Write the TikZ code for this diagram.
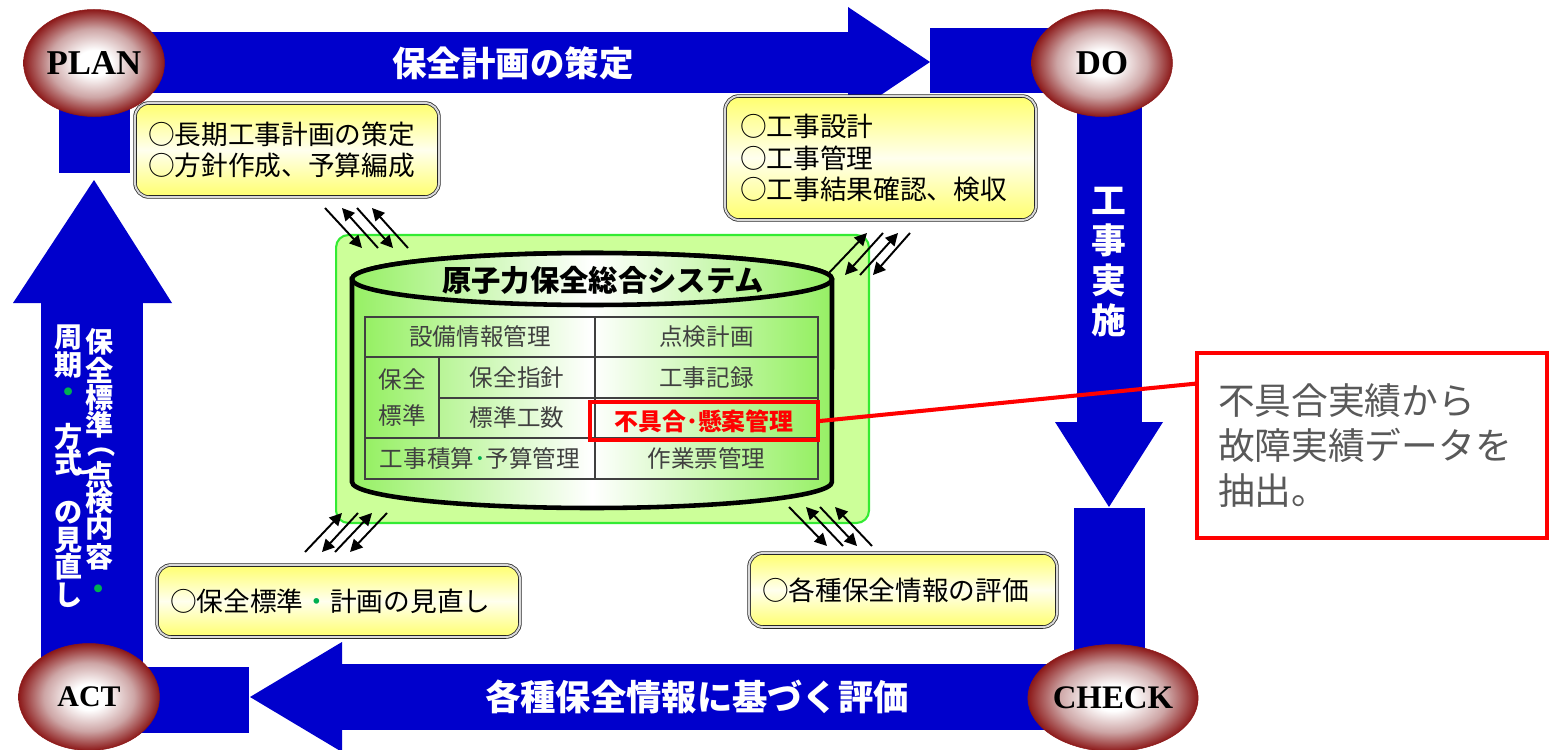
\documentclass[tikz,border=0pt]{standalone}
\usepackage{fontspec}
\setmainfont{Liberation Serif}
\newfontfamily\jp{Noto Sans CJK JP}
\usetikzlibrary{shapes.geometric,arrows.meta,calc}
\definecolor{pblue}{RGB}{0,0,204}
\definecolor{ytop}{RGB}{255,255,110}
\definecolor{ymid}{RGB}{255,255,238}
\definecolor{lgreen}{RGB}{204,255,153}
\definecolor{bgreen}{RGB}{51,235,51}
\definecolor{tgreen}{RGB}{150,240,100}
\definecolor{tgray}{RGB}{64,64,64}
\definecolor{calgray}{RGB}{89,89,89}
\definecolor{dotgreen}{RGB}{0,176,80}
\definecolor{ellmid}{RGB}{205,165,165}
\definecolor{elledge}{RGB}{140,25,25}
\pgfdeclareradialshading{capsule}{\pgfpoint{0bp}{0bp}}{color(0bp)=(white); color(6bp)=(white); color(16bp)=(ellmid); color(25bp)=(elledge); color(50bp)=(elledge)}
\newcommand\fsz[2]{\fontsize{#1pt}{#2pt}\selectfont}
\tikzset{
  phase/.style={ellipse, shade, shading=capsule, draw=elledge, line width=0.3pt, inner sep=0pt, minimum width=2.82cm, minimum height=2.14cm},
  ybox/.style={rectangle, rounded corners=8pt, draw=black!85, line width=0.45pt, double=black!15, double distance=1.1pt, top color=ytop, bottom color=ytop, middle color=ymid, align=left, font=\jp\fsz{15.2}{18}, inner ysep=0pt},
  cell/.style={rectangle, draw=tgray, line width=1.6pt, inner sep=0pt, text=tgray, font=\jp\fsz{13.4}{16}},
  vtext/.style={text=white, font=\jp\bfseries\fsz{16}{18}, inner sep=0pt},
  vdot/.style={text=dotgreen, font=\jp\bfseries\fsz{16}{18}, inner sep=0pt},
  sarrow/.style={line width=1.1pt, -{Triangle[length=7pt,width=7pt]}},
  sarrowr/.style={line width=1.1pt, {Triangle[length=7pt,width=7pt]}-},
  armlabel/.style={text=white, font=\jp\bfseries}
}
\begin{document}
\begin{tikzpicture}[x=0.02cm,y=-0.02cm]
\useasboundingbox (0,0) rectangle (1549,750);
% blue cycle arrows
\fill[pblue] (94,32) rectangle (848,93);
\fill[pblue] (848,7) -- (930,62) -- (848,117) -- cycle;
\fill[pblue] (930,28) rectangle (1102,93);
\fill[pblue] (1077,63) rectangle (1142,422);
\fill[pblue] (1055,422) -- (1163,422) -- (1109,507) -- cycle;
\fill[pblue] (1074,508) rectangle (1145,698);
\fill[pblue] (342,664) rectangle (1113,730);
\fill[pblue] (342,642) -- (250,697) -- (342,752) -- cycle;
\fill[pblue] (89,667) rectangle (249,733);
\fill[pblue] (41,303) rectangle (143,697);
\fill[pblue] (13,303) -- (94,180) -- (172,303) -- cycle;
\fill[pblue] (59,63) rectangle (130,173);
% arrow labels
\node[armlabel, font=\jp\bfseries\fsz{19.6}{22}] (toplabel) at (513,63) {保全計画の策定};
\node[armlabel, font=\jp\bfseries\fsz{20.1}{24}] (botlabel) at (697,697) {各種保全情報に基づく評価};
\node[armlabel, font=\jp\bfseries\fsz{19.8}{22.7}, align=center] (jisshi) at (1109,262) {工\\事\\実\\施};
\foreach \c/\xx/\yy [count=\i] in {保/100/342, 全/100/370, 標/100/398, 準/100/425, ︵/102/452, 点/100/475, 検/100/501, 内/100/527, 容/100/557, 周/69/338, 期/69/365, 方/69/437, 式/69/463, ︶/84/478, の/69/513, 見/69/540, 直/69/567, し/69/595}
  \node[vtext] (lv\i) at (\xx,\yy) {\c};
\node[vdot] (ldot1) at (99,592) {・};
\node[vdot] (ldot2) at (69,395) {・};
% green panel
\node[rectangle, rounded corners=7pt, fill=lgreen, draw=bgreen, line width=1.2pt, minimum width=10.66cm, minimum height=5.76cm] (panel) at (602.5,379) {};
% cylinder
\path[draw=black, line width=2.6pt, left color=tgreen, right color=tgreen, middle color=white] (352,279) -- (352,482) arc[start angle=180,end angle=360,x radius=4.8cm,y radius=0.52cm] -- (832,279) arc[start angle=0,end angle=180,x radius=4.8cm,y radius=0.52cm] -- cycle;
\path[draw=black, line width=2.6pt, left color=tgreen, right color=tgreen, middle color=white] (592,279) ellipse[x radius=4.8cm, y radius=0.52cm];
\node[font=\jp\bfseries\fsz{16.7}{18}] (systitle) at (603,280) {原子力保全総合システム};
% table
\shade[left color=tgreen, right color=tgreen, middle color=white] (365,317) rectangle (818,479);
\node[cell, minimum width=4.6cm, minimum height=0.8cm] (c11) at (480,337) {設備情報管理};
\node[cell, minimum width=4.46cm, minimum height=0.8cm] (c12) at (706.5,337) {点検計画};
\node[cell, minimum width=1.48cm, minimum height=1.62cm, align=center, font=\jp\fsz{13.4}{20}] (c2a) at (402,397.5) {保全\\標準};
\node[cell, minimum width=3.12cm, minimum height=0.82cm] (c22) at (517,377.5) {保全指針};
\node[cell, minimum width=4.46cm, minimum height=0.82cm] (c23) at (706.5,377.5) {工事記録};
\node[cell, minimum width=3.12cm, minimum height=0.8cm] (c32) at (517,418) {標準工数};
\node[cell, minimum width=4.46cm, minimum height=0.8cm] (c33) at (706.5,418) {};
\node[cell, minimum width=4.6cm, minimum height=0.82cm] (c41) at (480,458.5) {工事積算\textcolor{dotgreen}{･}予算管理};
\node[cell, minimum width=4.46cm, minimum height=0.82cm] (c42) at (706.5,458.5) {作業票管理};
\node[rectangle, draw=red, line width=2.3pt, minimum width=4.56cm, minimum height=0.76cm, inner sep=0pt, text=red, font=\jp\bfseries\fsz{13.6}{16}] (fubox) at (704,421) {不具合･懸案管理};
% yellow boxes
\node[ybox, text width=5.56cm, inner xsep=0.26cm, minimum height=1.88cm] (planbox) at (287,150) {○長期工事計画の策定\\○方針作成、予算編成};
\node[ybox, text width=5.62cm, inner xsep=0.3cm, minimum height=2.48cm] (dobox) at (880.5,158) {○工事設計\\○工事管理\\○工事結果確認、検収};
\node[ybox, text width=6.74cm, inner xsep=0.26cm, minimum height=1.44cm] (actbox) at (338.5,601) {○保全標準\textcolor{dotgreen}{・}計画の見直し};
\node[ybox, text width=5.64cm, inner xsep=0.26cm, minimum height=1.48cm] (checkbox) at (903,590) {○各種保全情報の評価};
% phase ellipses
\node[phase, font=\bfseries\fsz{19.8}{20}] (plan) at (94,63) {PLAN};
\node[phase, font=\bfseries\fsz{19.8}{20}] (do) at (1102,63) {DO};
\node[phase, font=\bfseries\fsz{17}{18}] (act) at (89,697) {ACT};
\node[phase, font=\bfseries\fsz{18.7}{20}] (check) at (1113,698) {CHECK};
% small double arrows
\draw[sarrow] (325,208) -- (362,248);
\draw[sarrowr] (342,208) -- (378,248);
\draw[sarrow] (357,208) -- (393,248);
\draw[sarrowr] (372,208) -- (408,248);
\draw[sarrow] (827,275) -- (867,233);
\draw[sarrowr] (845,275) -- (883,233);
\draw[sarrow] (860,275) -- (898,233);
\draw[sarrowr] (873,275) -- (910,233);
\draw[sarrow] (305,552) -- (342,513);
\draw[sarrowr] (322,552) -- (358,513);
\draw[sarrow] (335,552) -- (372,513);
\draw[sarrowr] (350,552) -- (387,513);
\draw[sarrow] (789,507) -- (827,546);
\draw[sarrowr] (806,507) -- (843,546);
\draw[sarrow] (820,507) -- (857,546);
\draw[sarrowr] (835,507) -- (872,546);
% callout
\node[rectangle, draw=red, line width=2.3pt, fill=white, minimum width=7cm, minimum height=3.7cm, text width=6.16cm, inner xsep=0.42cm, align=left, text=calgray, font=\jp\fsz{20.9}{25.5}] (callout) at (1372,445.5) {不具合実績から\\故障実績データを\\抽出。};
\draw[red, line width=2.3pt] (fubox.east) -- ($(callout.north west)!0.173!(callout.south west)$);
\end{tikzpicture}
\end{document}
